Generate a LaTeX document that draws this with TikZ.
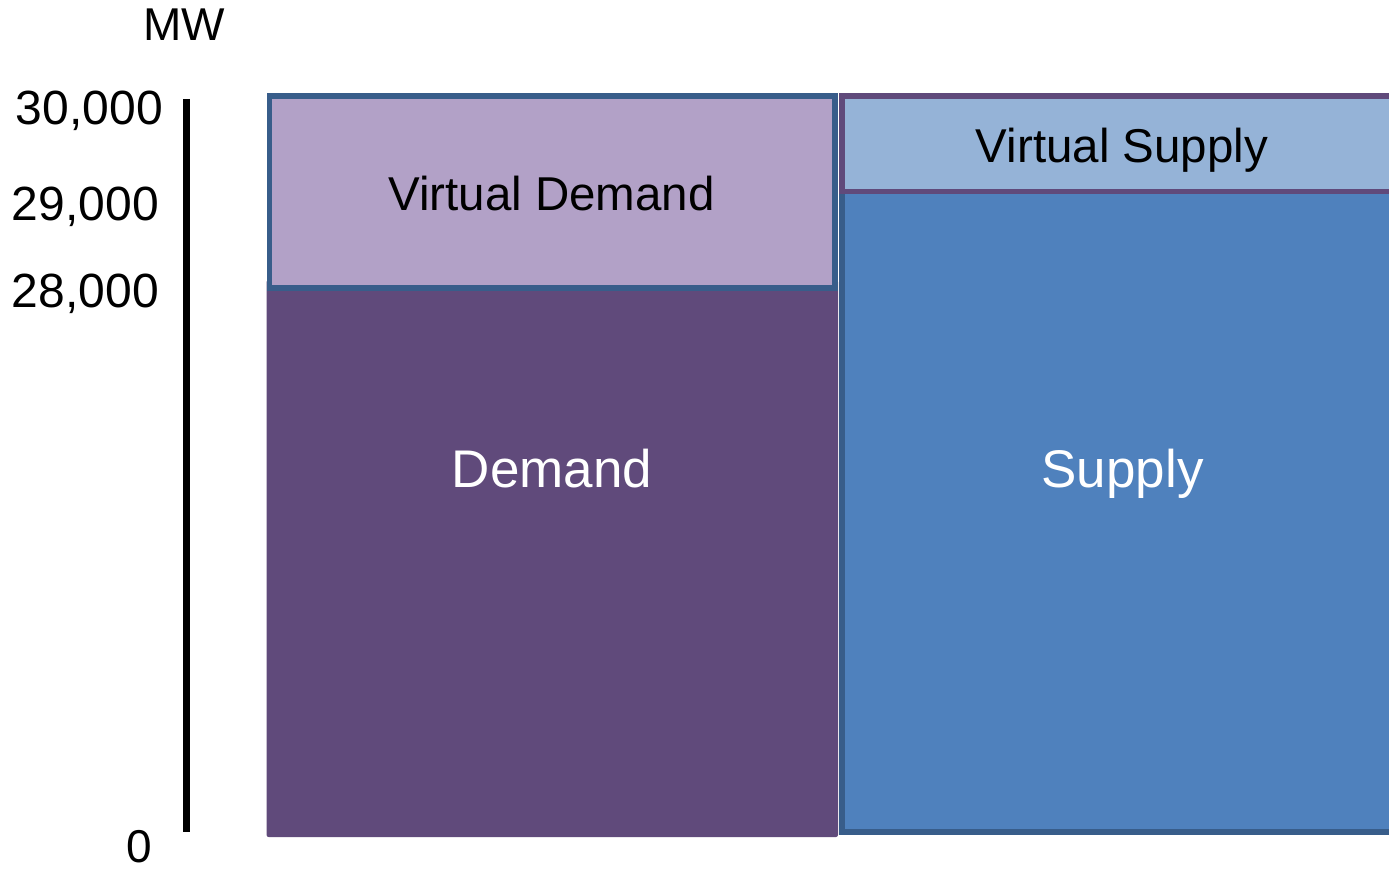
\documentclass[tikz,border=0pt]{standalone}
\usepackage{fontspec}
\setmainfont{Liberation Sans}
\definecolor{demandfill}{HTML}{604A7B}
\definecolor{vdemandfill}{HTML}{B2A1C7}
\definecolor{supplyfill}{HTML}{4F81BD}
\definecolor{vsupplyfill}{HTML}{95B3D7}
\definecolor{blueedge}{HTML}{385D8A}
\definecolor{purpleedge}{HTML}{604A7B}
\tikzset{
  unitlabel/.style={inner sep=0pt, font=\fontsize{46}{50}\selectfont, text=black},
  ticklabel/.style={inner sep=0pt, font=\fontsize{48}{52}\selectfont, text=black},
  smallbox/.style={inner sep=0pt, font=\fontsize{47.5}{52}\selectfont, text=black},
  bigbox/.style={inner sep=0pt, font=\fontsize{53}{58}\selectfont, text=white},
  boxedge/.style={line width=5.7pt, line join=miter}
}
\begin{document}
\begin{tikzpicture}[x=1pt,y=-1pt]
\useasboundingbox (0,0) rectangle (1389,869);
\begin{scope}
  \clip (0,0) rectangle (1389,869);
  % demand column
  \fill[demandfill, rounded corners=2pt] (266.6,280) rectangle (838,837);
  \filldraw[boxedge, fill=vdemandfill, draw=blueedge] (269.5,96.2) rectangle (835.2,288);
  % supply column
  \filldraw[boxedge, fill=supplyfill, draw=blueedge] (842,191.5) rectangle (1400,832);
  \filldraw[boxedge, fill=vsupplyfill, draw=purpleedge] (842,96.2) rectangle (1400,191.5);
\end{scope}

% vertical axis
\coordinate (axtop) at (186.5,99);
\coordinate (axbot) at (186.5,832);
\draw[line width=7pt] (axtop) -- (axbot);

% axis labels
\node[unitlabel, anchor=base] (unit) at (184,41) {MW};
\node[ticklabel, anchor=base east] (t30) at (163,125) {30,000};
\node[ticklabel, anchor=base east] (t29) at (159,220) {29,000};
\node[ticklabel, anchor=base east] (t28) at (159,307) {28,000};
\node[unitlabel, anchor=base] (t0) at (139.5,862) {0};

% box labels
\node[smallbox, anchor=base] (vdemand) at (551.5,211) {Virtual Demand};
\node[smallbox, anchor=base] (vsupply) at (1122,162.5) {Virtual Supply};
\node[bigbox, anchor=base] (demand) at (552,487) {Demand};
\node[bigbox, anchor=base] (supply) at (1122.5,487) {Supply};
\end{tikzpicture}
\end{document}
